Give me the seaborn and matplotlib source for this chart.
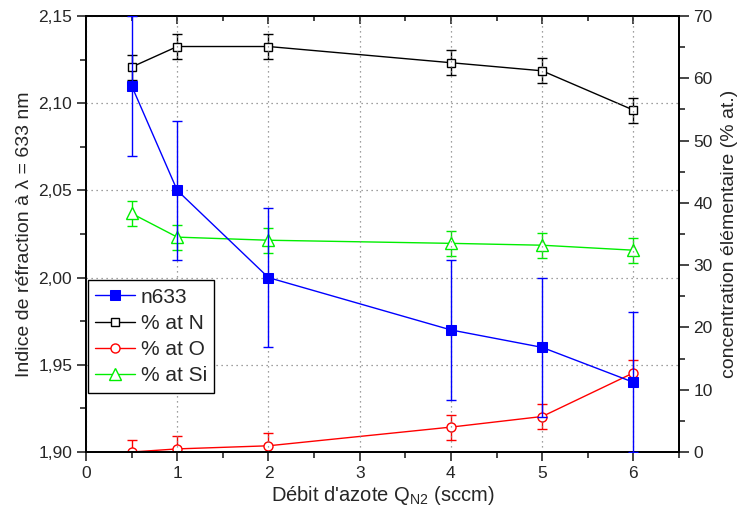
import matplotlib
matplotlib.use("Agg")
import matplotlib.pyplot as plt
from matplotlib.ticker import MultipleLocator, FuncFormatter
import seaborn as sns
import pandas as pd

# data
debit = [0.5, 1, 2, 4, 5, 6]
n633 = [2.11, 2.05, 2.00, 1.97, 1.96, 1.94]
n633_err = [0.04, 0.04, 0.04, 0.04, 0.04, 0.04]
at_N = [61.8, 65.1, 65.1, 62.5, 61.2, 54.9]
at_O = [0.0, 0.5, 1.0, 4.0, 5.7, 12.7]
at_Si = [38.3, 34.5, 34.0, 33.5, 33.2, 32.4]
conc_err = [2.0, 2.0, 2.0, 2.0, 2.0, 2.0]

df = pd.DataFrame({"debit": debit, "n633": n633, "N": at_N, "O": at_O, "Si": at_Si})

sns.set_style("ticks")
plt.rcParams['font.family'] = ['Liberation Sans', 'DejaVu Sans']
plt.rcParams['mathtext.fontset'] = 'custom'
plt.rcParams['mathtext.rm'] = 'Liberation Sans'
plt.rcParams['mathtext.it'] = 'Liberation Sans'

fig = plt.figure(figsize=(7.39, 5.16), dpi=100)
ax = fig.add_axes([0.1164, 0.124, 0.8024, 0.845])
ax2 = ax.twinx()

# concentrations on the right axis
series = [("N", "% at N", "black", "s", 6), ("O", "% at O", "red", "o", 6.5), ("Si", "% at Si", "#00ee00", "^", 8)]
for col, lab, c, m, ms in series:
    ax2.errorbar(df["debit"], df[col], yerr=conc_err, fmt="none", ecolor=c, elinewidth=1, capsize=3.5, capthick=1)
    sns.lineplot(data=df, x="debit", y=col, ax=ax2, color=c, marker=m, markersize=ms,
                 markerfacecolor="white", markeredgecolor=c, markeredgewidth=1, linewidth=1, label=lab, legend=False)

# refractive index on the left axis
ax.errorbar(df["debit"], df["n633"], yerr=n633_err, fmt="none", ecolor="blue", elinewidth=1, capsize=3.5, capthick=1, zorder=3)
sns.lineplot(data=df, x="debit", y="n633", ax=ax, color="blue", marker="s", markersize=7.5,
             markerfacecolor="blue", markeredgecolor="blue", linewidth=1, label="n633", legend=False, zorder=3)
ax.set_zorder(ax2.get_zorder() + 1)
ax.patch.set_visible(False)

ax.set_xlim(0, 6.5)
ax.set_ylim(1.90, 2.15)
ax2.set_ylim(0, 70)

ax.xaxis.set_major_locator(MultipleLocator(1))
ax.xaxis.set_minor_locator(MultipleLocator(0.5))
ax.yaxis.set_major_locator(MultipleLocator(0.05))
ax.yaxis.set_minor_locator(MultipleLocator(0.025))
ax.yaxis.set_major_formatter(FuncFormatter(lambda v, p: f"{v:.2f}".replace(".", ",")))
ax2.yaxis.set_major_locator(MultipleLocator(10))
ax2.yaxis.set_minor_locator(MultipleLocator(5))

ax.tick_params(axis="both", which="major", direction="out", length=6.5, width=1.2, labelsize=12.5, top=False)
ax.tick_params(axis="both", which="minor", direction="out", length=4, width=1.2, top=False)
ax2.tick_params(axis="y", which="major", direction="out", length=7, width=1.2, labelsize=12.5)
ax2.tick_params(axis="y", which="minor", direction="out", length=4.5, width=1.2)

# top axis: inward ticks, no labels
top = ax.secondary_xaxis("top")
top.xaxis.set_major_locator(MultipleLocator(1))
top.xaxis.set_minor_locator(MultipleLocator(0.5))
top.tick_params(which="major", direction="in", length=6, width=1.2, labeltop=False)
top.tick_params(which="minor", direction="in", length=3.5, width=1.2)
top.spines["top"].set_linewidth(1.3)

for a in (ax, ax2):
    for s in a.spines.values():
        s.set_linewidth(1.3)
        s.set_color("black")

ax.grid(True, which="major", linestyle=(0, (1, 3)), color="gray", linewidth=0.9)

ax.set_xlabel("Débit d'azote Q$_{\\mathrm{N2}}$ (sccm)", fontsize=14.5, labelpad=2)
ax.set_ylabel("Indice de réfraction à λ = 633 nm", fontsize=14)
ax2.set_ylabel("concentration élémentaire (% at.)", fontsize=14, labelpad=6)

h1, l1 = ax.get_legend_handles_labels()
h2, l2 = ax2.get_legend_handles_labels()
leg = ax.legend(h1 + h2, l1 + l2, loc="upper left", bbox_to_anchor=(0.003, 0.394), fontsize=15,
                frameon=True, fancybox=False, edgecolor="black", framealpha=1,
                borderpad=0.35, labelspacing=0.35, handlelength=1.9, handletextpad=0.3, borderaxespad=0)
leg.get_frame().set_linewidth(1)

fig.savefig("out.png", dpi=100)
